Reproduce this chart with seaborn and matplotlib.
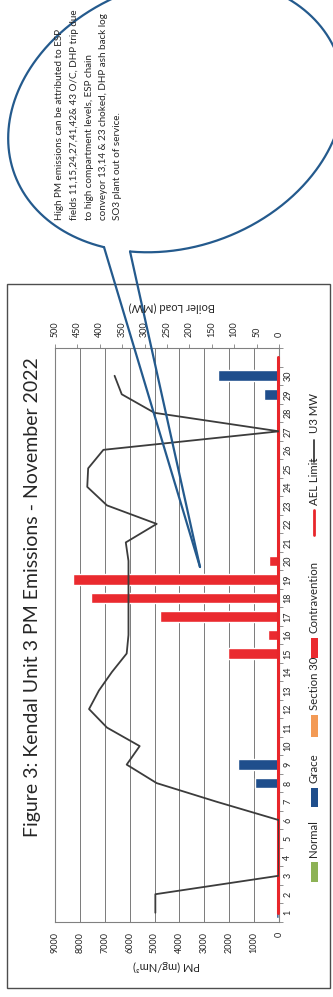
import matplotlib
matplotlib.use('Agg')
import matplotlib.pyplot as plt
from matplotlib.patches import Rectangle
from matplotlib.lines import Line2D
import numpy as np
import pandas as pd
import seaborn as sns

# data (day 31 is an empty slot on the category axis, AEL line runs into it)
days = list(range(1, 32))
day_labels = [str(d) for d in range(1, 31)] + ['']
statuses = ['Normal', 'Grace', 'Section 30', 'Contravention']
normal = [0] * 31
grace = [120, 0, 0, 0, 0, 0, 0, 950, 1650, 0,
         0, 0, 0, 0, 0, 0, 0, 0, 0, 0,
         0, 0, 0, 0, 0, 0, 0, 0, 600, 2450, 0]
section30 = [0] * 31
contravention = [0] * 14 + [2050, 440, 4800, 7560, 8280, 400] + [0] * 11
u3_mw = [276, 276, 0, 0, 0, 0, 140, 273, 340, 311,
         384, 424, 402, 373, 340, 336, 336, 336, 336, 336,
         342, 273, 384, 428, 426, 392, 0, 278, 351, 367]
ael_limit = [50] * 31
pm_ticks = list(range(0, 9001, 1000))
mw_ticks = list(range(0, 501, 50))

title = 'Figure 3: Kendal Unit 3 PM Emissions - November 2022'
note_lines = ['High PM emissions can be attributed to ESP',
              'fields 11,15,24,27,41,42& 43 O/C, DHP trip due',
              'to high compartment levels, ESP chain',
              'conveyor 13,14 & 23 choked, DHP ash back log',
              'SO3 plant out of service.']

palette = {'Normal': '#8db255', 'Grace': '#1f4e8c',
           'Section 30': '#f39a55', 'Contravention': '#ea2a2f'}
ael_color = '#e8262b'
mw_color = '#3c3c3c'
blue_line = '#245a8d'
txt = '#262626'

sns.set_style('white')
plt.rcParams['font.family'] = ['Lato', 'DejaVu Sans']

df = pd.DataFrame({
    'day': days * 4,
    'pm': normal + grace + section30 + contravention,
    'status': np.repeat(statuses, 31),
})

W, H = 333, 997
fig = plt.figure(figsize=(W / 100, H / 100), dpi=100)
fig.patch.set_facecolor('white')

# chart is drawn turned 90 degrees: days run upward, PM grows to the left
x0, x1, y0, y1 = 55, 279, 348, 922
ax = fig.add_axes([x0 / W, 1 - y1 / H, (x1 - x0) / W, (y1 - y0) / H])

sns.barplot(data=df, x='pm', y='day', hue='status', hue_order=statuses,
            palette=palette, orient='y', native_scale=True, dodge=False,
            width=0.58, errorbar=None, saturation=1, legend=False, ax=ax)
sns.lineplot(x=ael_limit, y=days, ax=ax, color=ael_color, lw=2.2,
             sort=False, estimator=None, zorder=4, clip_on=False)

ax.set_xlim(9000, 0)
ax.set_ylim(0.5, 31.5)
ax.set_xticks(pm_ticks)
ax.set_xticklabels([str(t) for t in pm_ticks], rotation=90, fontsize=6.5, color=txt)
ax.tick_params(axis='x', length=0, pad=7)
ax.yaxis.tick_right()
ax.set_yticks(days)
ax.set_yticklabels(day_labels, rotation=90, fontsize=6.5, color=txt, va='center')
ax.set_yticks(np.arange(0.5, 31.6, 1), minor=True)
ax.tick_params(axis='y', which='major', length=0, pad=3)
ax.tick_params(axis='y', which='minor', length=3, width=0.6, color='#808080', direction='out')
ax.grid(axis='x', color='#7a7a7a', lw=0.7)
ax.grid(axis='y', visible=False)
ax.set_xlabel('')
ax.set_ylabel('')
for s in ax.spines.values():
    s.set_color('#808080')
    s.set_linewidth(0.8)

ax2 = ax.twiny()
sns.lineplot(x=u3_mw, y=days[:30], ax=ax2, color=mw_color, lw=1.3,
             sort=False, estimator=None)
ax2.set_xlim(500, 0)
ax2.set_ylim(0.5, 31.5)
ax2.set_xticks(mw_ticks)
ax2.set_xticklabels([str(t) for t in mw_ticks], rotation=90, fontsize=6.5, color=txt)
ax2.tick_params(axis='x', length=3, width=0.6, color='#808080', pad=5)
ax2.set_xlabel('')
ax2.set_ylabel('')
for s in ax2.spines.values():
    s.set_visible(False)

# overlay in pixel units for frame, titles, legend and callout
ov = fig.add_axes([0, 0, 1, 1], zorder=10)
ov.set_xlim(0, W)
ov.set_ylim(H, 0)
ov.axis('off')
ov.patch.set_alpha(0)

ov.add_patch(Rectangle((7, 284), 323, 704, fill=False, ec='#4d4d4d', lw=1.0))
ov.text(33, 597, title, rotation=90, fontsize=14, color=txt, ha='center', va='center')
ov.text(166, 966, 'PM (mg/Nm³)', rotation=180, fontsize=8, color=txt, ha='center', va='center')
ov.text(172, 307, 'Boiler Load (MW)', rotation=180, fontsize=8, color=txt, ha='center', va='center')

# legend, read bottom to top
leg_x = 314
for name, p0, p1, t0 in [('Normal', 862, 882, 857), ('Grace', 788, 807, 783),
                         ('Section 30', 715, 737, 710), ('Contravention', 638, 658, 633)]:
    ov.add_patch(Rectangle((leg_x - 3.5, p0), 7, p1 - p0, color=palette[name], lw=0))
    ov.text(leg_x, t0, name, rotation=90, fontsize=8.2, color=txt, ha='center', va='bottom')
ov.add_line(Line2D([leg_x, leg_x], [510, 535], color=ael_color, lw=2))
ov.add_line(Line2D([leg_x, leg_x], [440, 462], color=mw_color, lw=1.3))
ov.text(leg_x, 505, 'AEL Limit', rotation=90, fontsize=8.2, color=txt, ha='center', va='bottom')
ov.text(leg_x, 433, 'U3 MW', rotation=90, fontsize=8.2, color=txt, ha='center', va='bottom')

# callout bubble: tilted oval with an opening where the pointer leaves it
cx, cy, ra, rb, tilt = 176, 115, 172, 132, np.radians(20)
t = np.radians(np.arange(0, 360.5, 0.5))
ex = cx + ra * np.cos(t) * np.cos(tilt) + rb * np.sin(t) * np.sin(tilt)
ey = cy - ra * np.cos(t) * np.sin(tilt) + rb * np.sin(t) * np.cos(tilt)
lower = (t > np.radians(90)) & (t < np.radians(180))
i_l = np.where(lower)[0][np.argmin(np.abs(ex[lower] - 104))]
i_r = np.where(lower)[0][np.argmin(np.abs(ex[lower] - 130))]
keep = np.r_[np.arange(i_l, len(t)), np.arange(0, i_r + 1)]
ov.plot(ex[keep], ey[keep], color=blue_line, lw=1.6, solid_capstyle='round')
tip = (200, 567)
ov.add_line(Line2D([ex[i_l], tip[0]], [ey[i_l], tip[1]], color=blue_line, lw=1.6))
ov.add_line(Line2D([ex[i_r], tip[0]], [ey[i_r], tip[1]], color=blue_line, lw=1.6))
for i, line in enumerate(note_lines):
    ov.text(60 + 14.5 * i, 220, line, rotation=90, fontsize=7.1, color=txt,
            ha='center', va='bottom')

fig.savefig('out.png', dpi=100)
